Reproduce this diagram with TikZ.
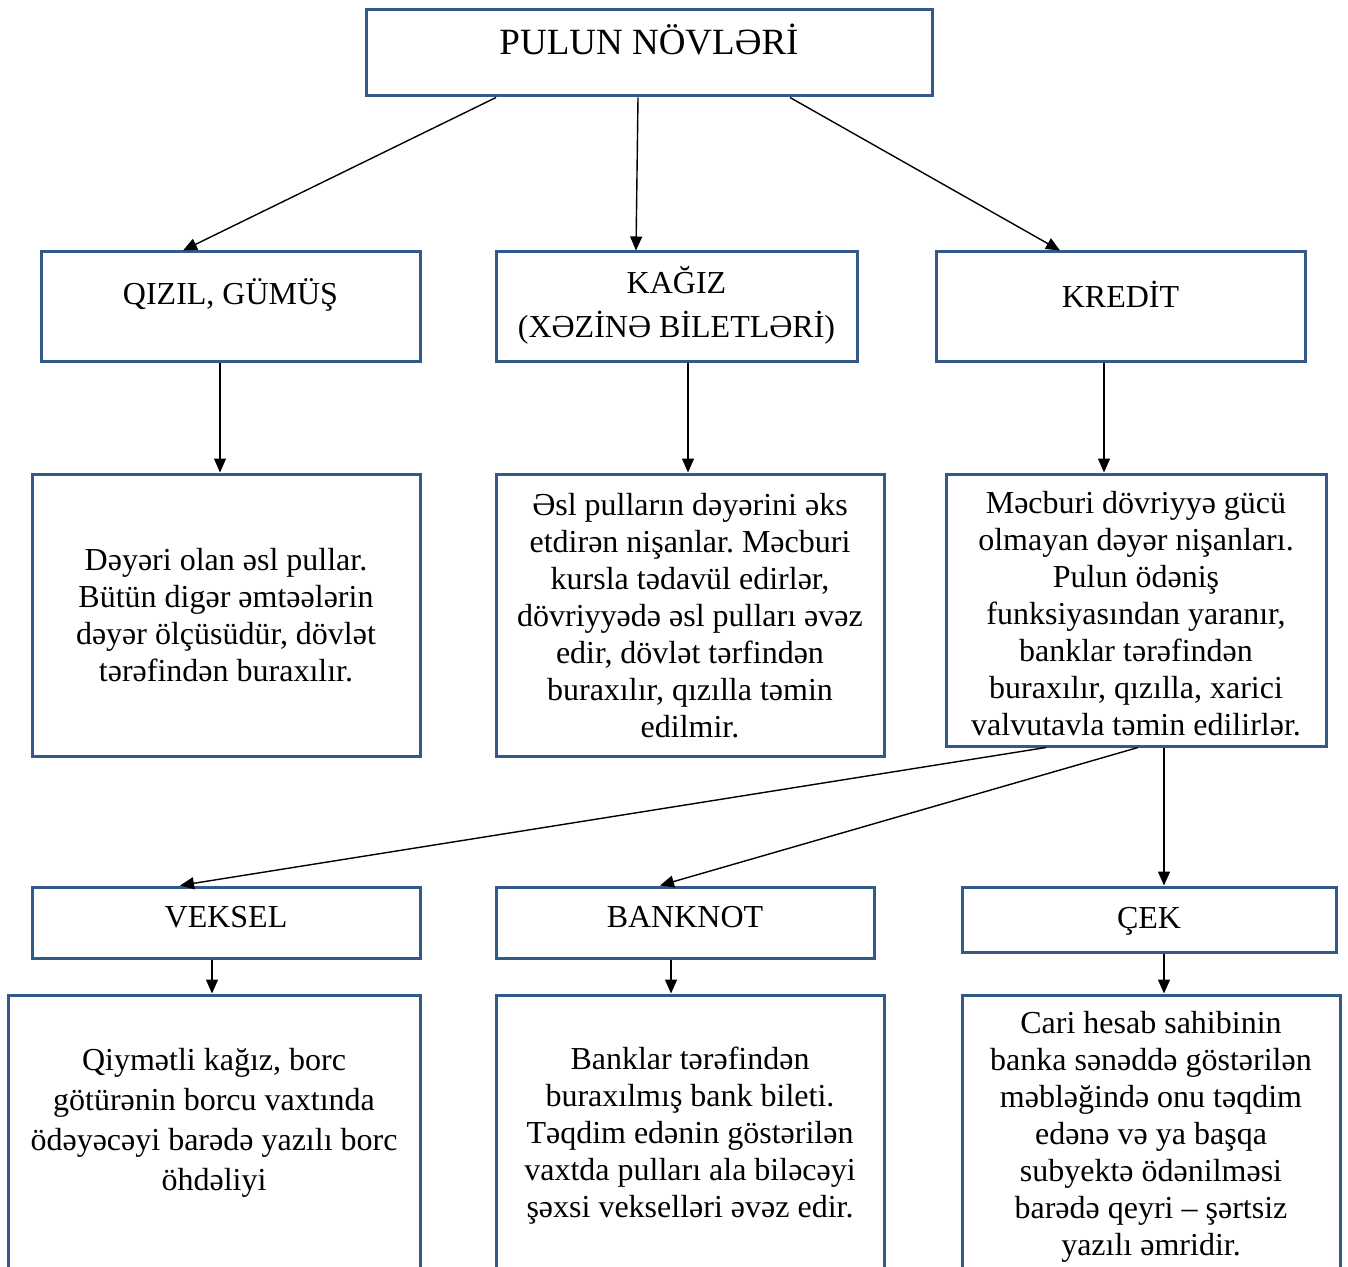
\documentclass[tikz,border=0pt]{standalone}
\usepackage{fontspec}
\setmainfont{Liberation Serif}
\usepackage{xcolor}
\usetikzlibrary{arrows.meta,positioning}
\definecolor{boxblue}{HTML}{335A89}
\frenchspacing
\newcommand{\boxfont}{\fontsize{16pt}{18.5pt}\selectfont}
\newcommand{\wideboxfont}{\fontsize{16pt}{20pt}\selectfont}
\newcommand{\titlefont}{\fontsize{18.5pt}{21pt}\selectfont}
\tikzset{%
	block/.style = {draw=boxblue, line width=1.5pt, rectangle, inner sep=0pt, fill=white},
	txt/.style   = {align=center, inner sep=0pt, font=\boxfont},
	arrow/.style = {line width=0.7pt, -{Triangle[length=7pt,width=6pt]}},
}
\begin{document}
\begin{tikzpicture}[x=0.5pt,y=-0.5pt]
	\useasboundingbox (0,0) rectangle (1348,1267);
	\clip (0,0) rectangle (1348,1267);
	
	% top level
	\node[block, minimum width=283pt, minimum height=43pt] (top) at (649,53) {};
	\node[txt, font=\titlefont] (toptxt) at (649,40) {PULUN NÖVLƏRİ};
	
	% kinds of money
	\node[block, minimum width=189.5pt, minimum height=55pt] (qizil) at (230.5,307) {};
	\node[txt] (qiziltxt) at (230.5,295) {QIZIL, GÜMÜŞ};
	\node[block, minimum width=180.5pt, minimum height=55pt] (kagiz) at (676.5,307) {};
	\node[txt] (kagiztxt) at (676.5,305) {KAĞIZ\\[3.5pt](XƏZİNƏ BİLETLƏRİ)};
	\node[block, minimum width=184.5pt, minimum height=55pt] (kredit) at (1120.5,307) {};
	\node[txt] (kredittxt) at (1120.5,294) {KREDİT};
	
	% descriptions
	\node[block, minimum width=194pt, minimum height=141pt] (qizdesc) at (226,615) {};
	\node[txt] (qizdesctxt) at (226,615) {Dəyəri olan əsl pullar.\\Bütün digər əmtəələrin\\dəyər ölçüsüdür, dövlət\\tərəfindən buraxılır.};
	\node[block, minimum width=194pt, minimum height=141pt] (kagdesc) at (690,615) {};
	\node[txt] (kagdesctxt) at (690,616) {Əsl pulların dəyərini əks\\etdirən nişanlar. Məcburi\\kursla tədavül edirlər,\\dövriyyədə əsl pulları əvəz\\edir, dövlət tərfindən\\buraxılır, qızılla təmin\\edilmir.};
	\node[block, minimum width=190pt, minimum height=136pt] (kreddesc) at (1136,610) {};
	\node[txt] (kreddesctxt) at (1136,614) {Məcburi dövriyyə gücü\\olmayan dəyər nişanları.\\Pulun ödəniş\\funksiyasından yaranır,\\banklar tərəfindən\\buraxılır, qızılla, xarici\\valvutavla təmin edilirlər.};
	
	% kinds of credit money
	\node[block, minimum width=194pt, minimum height=35.5pt] (veksel) at (226,922.5) {};
	\node[txt] (vekseltxt) at (226,917) {VEKSEL};
	\node[block, minimum width=189pt, minimum height=35.5pt] (banknot) at (685,922.5) {};
	\node[txt] (banknottxt) at (685,917) {BANKNOT};
	\node[block, minimum width=187pt, minimum height=32.5pt] (cek) at (1149,919.5) {};
	\node[txt] (cektxt) at (1149,921) {ÇEK};
	
	\node[block, minimum width=206pt, minimum height=147.5pt] (vekdesc) at (214,1142.5) {};
	\node[txt, font=\wideboxfont] (vekdesctxt) at (214,1123) {Qiymətli kağız, borc\\götürənin borcu vaxtında\\ödəyəcəyi barədə yazılı borc\\öhdəliyi};
	\node[block, minimum width=194pt, minimum height=147.5pt] (bankdesc) at (690,1142.5) {};
	\node[txt] (bankdesctxt) at (690,1136) {Banklar tərəfindən\\buraxılmış bank bileti.\\Təqdim edənin göstərilən\\vaxtda pulları ala biləcəyi\\şəxsi vekselləri əvəz edir.};
	\node[block, minimum width=189pt, minimum height=147.5pt] (cekdesc) at (1151,1142.5) {};
	\node[txt] (cekdesctxt) at (1151,1137) {Cari hesab sahibinin\\banka sənəddə göstərilən\\məbləğində onu təqdim\\edənə və ya başqa\\subyektə ödənilməsi\\barədə qeyri – şərtsiz\\yazılı əmridir.};
	
	% connectors
	\draw[arrow] ([xshift=-76.5pt]top.south) -- ([xshift=-23.75pt]qizil.north);
	\draw[arrow] ([xshift=-5.5pt]top.south) -- ([xshift=-20.25pt]kagiz.north);
	\draw[arrow] ([xshift=70.5pt]top.south) -- ([xshift=-30.25pt]kredit.north);
	\draw[arrow] ([xshift=-5.25pt]qizil.south) -- ([xshift=-5.25pt]qizil.south |- qizdesc.north);
	\draw[arrow] ([xshift=5.75pt]kagiz.south) -- ([xshift=5.75pt]kagiz.south |- kagdesc.north);
	\draw[arrow] ([xshift=-8.25pt]kredit.south) -- ([xshift=-8.25pt]kredit.south |- kreddesc.north);
	\draw[arrow] ([xshift=-45pt]kreddesc.south) -- ([xshift=-23pt]veksel.north);
	\draw[arrow] ([xshift=1pt]kreddesc.south) -- ([xshift=-12.5pt]banknot.north);
	\draw[arrow] ([xshift=14pt]kreddesc.south) -- ([xshift=14pt]kreddesc.south |- cek.north);
	\draw[arrow] ([xshift=-7pt]veksel.south) -- ([xshift=-7pt]veksel.south |- vekdesc.north);
	\draw[arrow] ([xshift=-7pt]banknot.south) -- ([xshift=-7pt]banknot.south |- bankdesc.north);
	\draw[arrow] ([xshift=7.5pt]cek.south) -- ([xshift=7.5pt]cek.south |- cekdesc.north);
\end{tikzpicture}
\end{document}
